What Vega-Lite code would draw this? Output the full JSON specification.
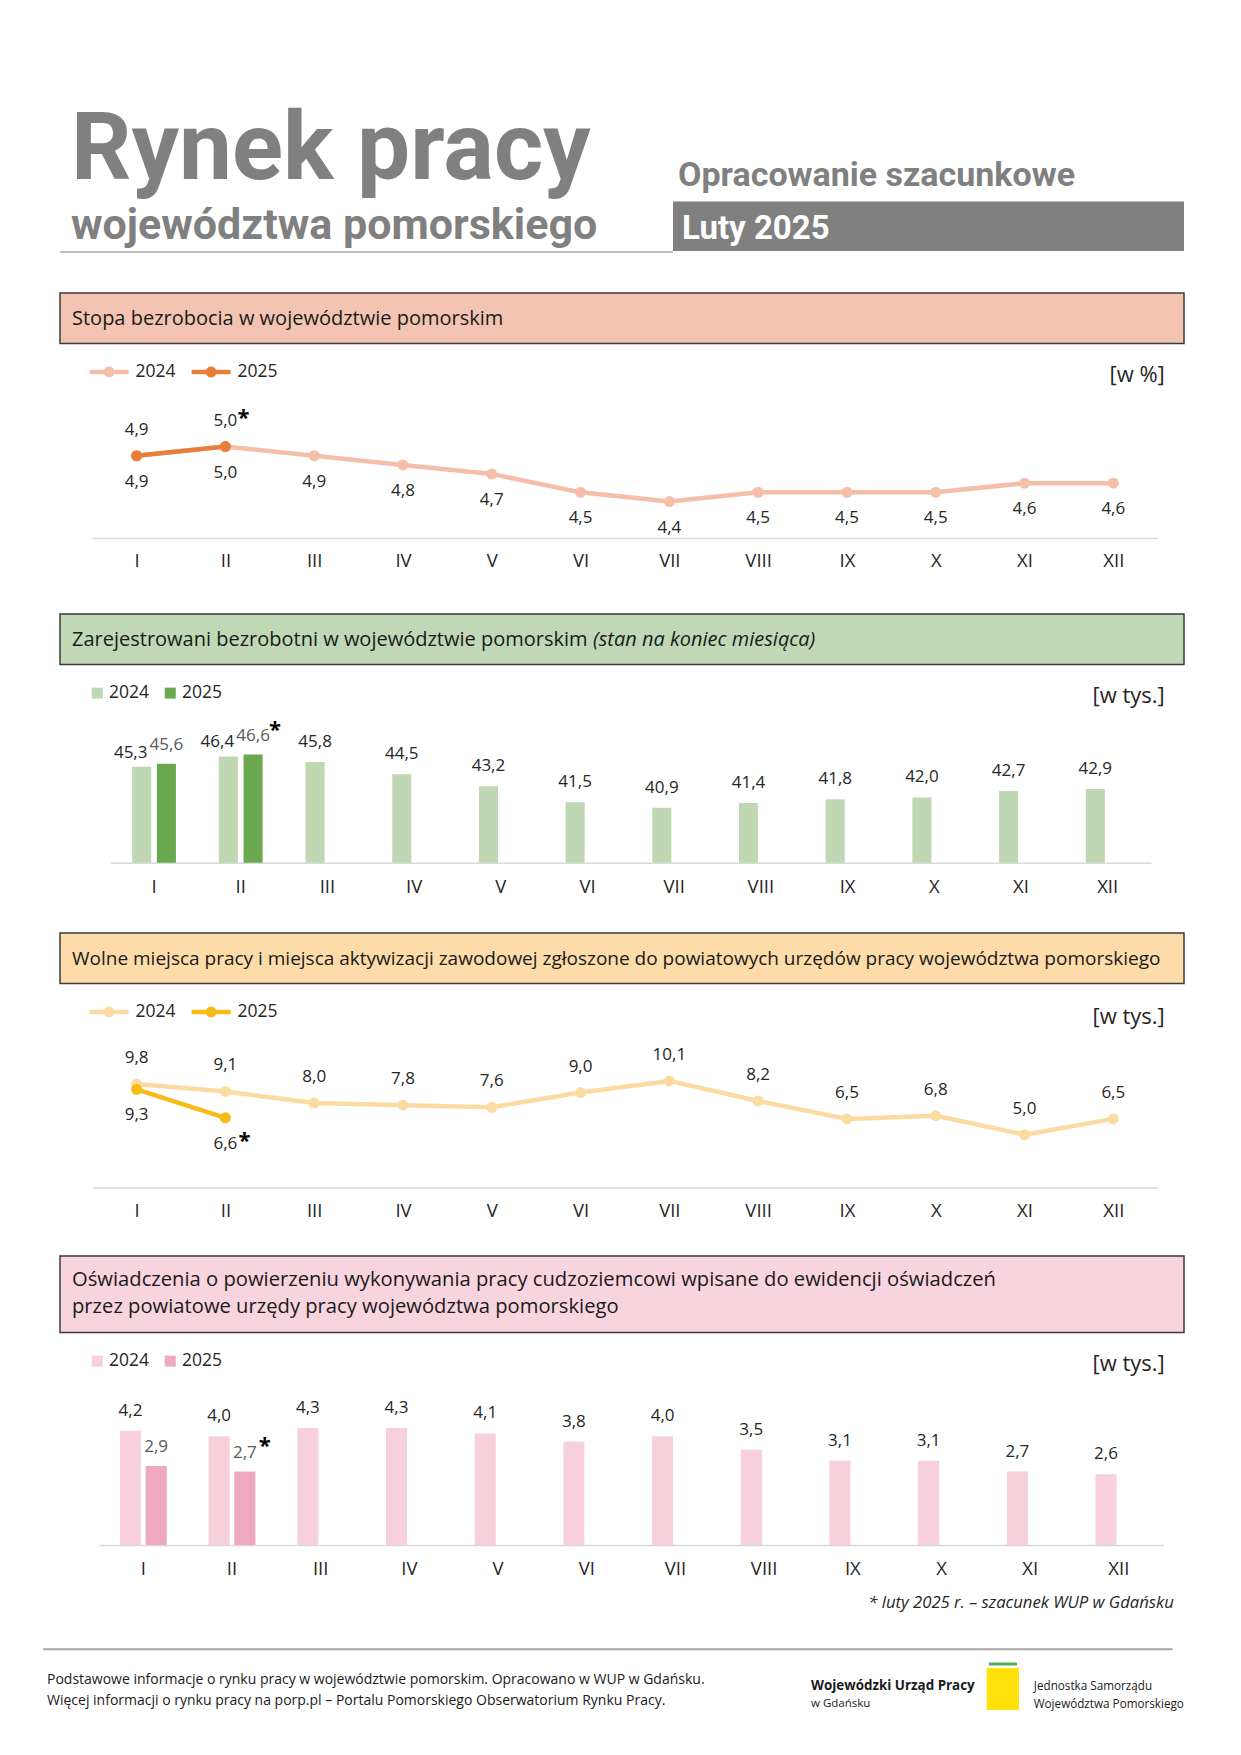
{
  "$schema": "https://vega.github.io/schema/vega-lite/v6.json",
  "padding": {"left": 42, "top": 0, "right": 0, "bottom": 0},
  "background": "white",
  "spacing": 0,
  "bounds": "flush",
  "resolve": {"scale": {"color": "independent", "x": "independent", "y": "independent", "xOffset": "independent"}, "legend": {"color": "independent"}},
  "config": {
    "view": {"stroke": null},
    "font": "Open Sans",
    "concat": {"spacing": 0},
    "locale": {"number": {"decimal": ",", "thousands": " ", "grouping": [3], "currency": ["", " zł"]}}
  },
  "datasets": {
    "stopa": [
      {"m": "I", "year": "2024", "v": 4.9, "est": false},
      {"m": "II", "year": "2024", "v": 5.0, "est": false},
      {"m": "III", "year": "2024", "v": 4.9, "est": false},
      {"m": "IV", "year": "2024", "v": 4.8, "est": false},
      {"m": "V", "year": "2024", "v": 4.7, "est": false},
      {"m": "VI", "year": "2024", "v": 4.5, "est": false},
      {"m": "VII", "year": "2024", "v": 4.4, "est": false},
      {"m": "VIII", "year": "2024", "v": 4.5, "est": false},
      {"m": "IX", "year": "2024", "v": 4.5, "est": false},
      {"m": "X", "year": "2024", "v": 4.5, "est": false},
      {"m": "XI", "year": "2024", "v": 4.6, "est": false},
      {"m": "XII", "year": "2024", "v": 4.6, "est": false},
      {"m": "I", "year": "2025", "v": 4.9, "est": false},
      {"m": "II", "year": "2025", "v": 5.0, "est": true}
    ],
    "bezrob": [
      {"m": "I", "year": "2024", "v": 45.3, "est": false},
      {"m": "II", "year": "2024", "v": 46.4, "est": false},
      {"m": "III", "year": "2024", "v": 45.8, "est": false},
      {"m": "IV", "year": "2024", "v": 44.5, "est": false},
      {"m": "V", "year": "2024", "v": 43.2, "est": false},
      {"m": "VI", "year": "2024", "v": 41.5, "est": false},
      {"m": "VII", "year": "2024", "v": 40.9, "est": false},
      {"m": "VIII", "year": "2024", "v": 41.4, "est": false},
      {"m": "IX", "year": "2024", "v": 41.8, "est": false},
      {"m": "X", "year": "2024", "v": 42.0, "est": false},
      {"m": "XI", "year": "2024", "v": 42.7, "est": false},
      {"m": "XII", "year": "2024", "v": 42.9, "est": false},
      {"m": "I", "year": "2025", "v": 45.6, "est": false},
      {"m": "II", "year": "2025", "v": 46.6, "est": true}
    ],
    "wolne": [
      {"m": "I", "year": "2024", "v": 9.8, "est": false},
      {"m": "II", "year": "2024", "v": 9.1, "est": false},
      {"m": "III", "year": "2024", "v": 8.0, "est": false},
      {"m": "IV", "year": "2024", "v": 7.8, "est": false},
      {"m": "V", "year": "2024", "v": 7.6, "est": false},
      {"m": "VI", "year": "2024", "v": 9.0, "est": false},
      {"m": "VII", "year": "2024", "v": 10.1, "est": false},
      {"m": "VIII", "year": "2024", "v": 8.2, "est": false},
      {"m": "IX", "year": "2024", "v": 6.5, "est": false},
      {"m": "X", "year": "2024", "v": 6.8, "est": false},
      {"m": "XI", "year": "2024", "v": 5.0, "est": false},
      {"m": "XII", "year": "2024", "v": 6.5, "est": false},
      {"m": "I", "year": "2025", "v": 9.3, "est": false},
      {"m": "II", "year": "2025", "v": 6.6, "est": true}
    ],
    "osw": [
      {"m": "I", "year": "2024", "v": 4.2, "est": false},
      {"m": "II", "year": "2024", "v": 4.0, "est": false},
      {"m": "III", "year": "2024", "v": 4.3, "est": false},
      {"m": "IV", "year": "2024", "v": 4.3, "est": false},
      {"m": "V", "year": "2024", "v": 4.1, "est": false},
      {"m": "VI", "year": "2024", "v": 3.8, "est": false},
      {"m": "VII", "year": "2024", "v": 4.0, "est": false},
      {"m": "VIII", "year": "2024", "v": 3.5, "est": false},
      {"m": "IX", "year": "2024", "v": 3.1, "est": false},
      {"m": "X", "year": "2024", "v": 3.1, "est": false},
      {"m": "XI", "year": "2024", "v": 2.7, "est": false},
      {"m": "XII", "year": "2024", "v": 2.6, "est": false},
      {"m": "I", "year": "2025", "v": 2.9, "est": false},
      {"m": "II", "year": "2025", "v": 2.7, "est": true}
    ]
  },
  "vconcat": [
    {
      "width": 1124, "height": 293,
      "layer": [
        {"data": {"values": [{"t": "Rynek pracy"}]}, "mark": {"type": "text", "font": "Roboto", "fontWeight": "bold", "fontSize": 94.5, "color": "#808080", "align": "left", "baseline": "alphabetic"}, "encoding": {"x": {"value": 11}, "y": {"value": 179}, "text": {"field": "t"}}},
        {"data": {"values": [{"t": "województwa pomorskiego"}]}, "mark": {"type": "text", "font": "Roboto", "fontWeight": "bold", "fontSize": 43, "color": "#808080", "align": "left", "baseline": "alphabetic"}, "encoding": {"x": {"value": 11}, "y": {"value": 238.5}, "text": {"field": "t"}}},
        {"data": {"values": [{"t": "Opracowanie szacunkowe"}]}, "mark": {"type": "text", "font": "Roboto", "fontWeight": "bold", "fontSize": 34, "color": "#808080", "align": "left", "baseline": "alphabetic"}, "encoding": {"x": {"value": 618}, "y": {"value": 186}, "text": {"field": "t"}}},
        {"data": {"values": [{"t": "box"}]}, "mark": {"type": "rect", "color": "#808080"}, "encoding": {"x": {"value": 613}, "x2": {"value": 1124}, "y": {"value": 201.6}, "y2": {"value": 251}}},
        {"data": {"values": [{"t": "Luty 2025"}]}, "mark": {"type": "text", "font": "Roboto", "fontWeight": "bold", "fontSize": 33, "color": "#FFFFFF", "align": "left", "baseline": "alphabetic"}, "encoding": {"x": {"value": 622}, "y": {"value": 238.5}, "text": {"field": "t"}}},
        {"data": {"values": [{"t": "line"}]}, "mark": {"type": "rule", "color": "#BFBFBF", "strokeWidth": 2}, "encoding": {"x": {"value": 0}, "x2": {"value": 613}, "y": {"value": 252}}}
      ]
    },
    {
      "width": 1124, "height": 50.5,
      "view": {"fill": "#F4C4B2", "stroke": "#3A3A3A", "strokeWidth": 1.5},
      "data": {"values": [{"t": "Stopa bezrobocia w województwie pomorskim"}]},
      "mark": {"type": "text", "align": "left", "baseline": "middle", "fontSize": 20, "color": "#1A1A1A"},
      "encoding": {"x": {"value": 12}, "y": {"value": 25.5}, "text": {"field": "t"}}
    },
    {
      "width": 1124, "height": 270,
      "data": {"name": "stopa"},
      "encoding": {
        "x": {"field": "m", "type": "ordinal", "scale": {"domain": ["I","II","III","IV","V","VI","VII","VIII","IX","X","XI","XII"], "range": [32.2, 1097.7], "paddingInner": 0, "paddingOuter": 0},
              "axis": {"title": null, "labelAngle": 0, "ticks": false, "tickSize": 0, "domainColor": "#D9D9D9", "domainWidth": 1.5, "labelFontSize": 18.5, "labelColor": "#262626", "labelPadding": 22.3, "labelBaseline": "middle", "offset": -75.9, "grid": false}},
        "y": {"field": "v", "type": "quantitative", "scale": {"domain": [4.0, 5.4], "range": [194.1, 66], "zero": false, "nice": false}, "axis": null}
      },
      "layer": [
        {"mark": {"type": "line", "strokeWidth": 4.5, "strokeJoin": "round", "strokeCap": "round"},
         "encoding": {"color": {"field": "year", "type": "nominal", "scale": {"domain": ["2024", "2025"], "range": ["#F4BEA9", "#E87F38"]},
           "legend": {"orient": "none", "legendX": 29.6, "legendY": 8.5, "direction": "horizontal", "title": null, "symbolType": "M-1,-0.115H1V0.115H-1Z M-0.28,0A0.28,0.28 0 1,1 0.28,0A0.28,0.28 0 1,1 -0.28,0Z", "symbolSize": 1521, "symbolStrokeWidth": 0, "symbolOpacity": 1, "labelFontSize": 17.5, "labelColor": "#262626", "labelOffset": 7, "columnPadding": 15, "padding": 0}}}},
        {"mark": {"type": "point", "filled": true, "size": 121, "opacity": 1},
         "encoding": {"color": {"field": "year", "type": "nominal", "scale": {"domain": ["2024", "2025"], "range": ["#F4BEA9", "#E87F38"]},
           "legend": {"orient": "none", "legendX": 29.6, "legendY": 8.5, "direction": "horizontal", "title": null, "symbolType": "M-1,-0.115H1V0.115H-1Z M-0.28,0A0.28,0.28 0 1,1 0.28,0A0.28,0.28 0 1,1 -0.28,0Z", "symbolSize": 1521, "symbolStrokeWidth": 0, "symbolOpacity": 1, "labelFontSize": 17.5, "labelColor": "#262626", "labelOffset": 7, "columnPadding": 15, "padding": 0}}}},
        {"transform": [{"filter": "datum.year == '2024'"}], "mark": {"type": "text", "dy": 26, "fontSize": 17, "color": "#262626", "baseline": "middle"}, "encoding": {"text": {"field": "v", "type": "quantitative", "format": ".1f"}}},
        {"transform": [{"filter": "datum.year == '2025'"}], "mark": {"type": "text", "dy": -26, "fontSize": 17, "color": "#262626", "baseline": "middle"}, "encoding": {"text": {"field": "v", "type": "quantitative", "format": ".1f"}}},
        {"transform": [{"filter": "datum.est"}], "mark": {"type": "text", "dx": 18, "dy": -29, "fontSize": 22, "fontWeight": "bold", "color": "#000000", "baseline": "middle"}, "encoding": {"text": {"value": "*"}}},
        {"data": {"values": [{"u": "[w %]"}]}, "mark": {"type": "text", "fontSize": 22, "color": "#262626", "align": "right", "baseline": "middle"}, "encoding": {"x": {"value": 1104.8}, "y": {"value": 31}, "text": {"field": "u"}}}
      ]
    },
    {
      "width": 1124, "height": 50.5,
      "view": {"fill": "#C0D8B6", "stroke": "#3A3A3A", "strokeWidth": 1.5},
      "layer": [
        {"data": {"values": [{"t": "Zarejestrowani bezrobotni w województwie pomorskim"}]}, "mark": {"type": "text", "align": "left", "baseline": "middle", "fontSize": 20, "color": "#1A1A1A"}, "encoding": {"x": {"value": 12}, "y": {"value": 25.5}, "text": {"field": "t"}}},
        {"data": {"values": [{"t": "(stan na koniec miesiąca)"}]}, "mark": {"type": "text", "align": "left", "baseline": "middle", "fontSize": 20, "fontStyle": "italic", "color": "#1A1A1A"}, "encoding": {"x": {"value": 533}, "y": {"value": 25.5}, "text": {"field": "t"}}}
      ]
    },
    {
      "width": 1124, "height": 268,
      "data": {"name": "bezrob"},
      "encoding": {
        "x": {"field": "m", "type": "ordinal", "scale": {"domain": ["I","II","III","IV","V","VI","VII","VIII","IX","X","XI","XII"], "range": [50.7, 1091], "paddingInner": 0.495, "paddingOuter": 0.2475},
              "axis": {"title": null, "labelAngle": 0, "ticks": false, "tickSize": 0, "domainColor": "#D9D9D9", "domainWidth": 1.5, "labelFontSize": 18.5, "labelColor": "#262626", "labelPadding": 23.5, "labelBaseline": "middle", "offset": -70.2, "grid": false}},
        "y": {"field": "v", "type": "quantitative", "scale": {"domain": [35, 48.5], "range": [197.8, 71.8], "zero": false, "nice": false}, "axis": null}
      },
      "layer": [
        {"mark": {"type": "bar"},
         "encoding": {"xOffset": {"field": "year", "type": "nominal", "scale": {"domain": ["2024", "2025"], "paddingInner": 0.228, "paddingOuter": 0}},
           "y2": {"datum": 35},
           "color": {"field": "year", "type": "nominal", "scale": {"domain": ["2024", "2025"], "range": ["#BFD7B3", "#6AA84F"]},
             "legend": {"orient": "none", "legendX": 28.5, "legendY": 19, "direction": "horizontal", "title": null, "symbolType": "square", "symbolSize": 121, "symbolStrokeWidth": 0, "symbolOpacity": 1, "labelFontSize": 17.5, "labelColor": "#262626", "labelOffset": 3, "columnPadding": 12, "padding": 0}}}},
        {"transform": [{"filter": "datum.year == '2024' && (datum.m == 'I' || datum.m == 'II')"}], "mark": {"type": "text", "dx": -11, "dy": -14, "fontSize": 17, "color": "#262626", "baseline": "middle"},
         "encoding": {"xOffset": {"field": "year", "type": "nominal", "scale": {"domain": ["2024", "2025"], "paddingInner": 0.228, "paddingOuter": 0}}, "text": {"field": "v", "type": "quantitative", "format": ".1f"}}},
        {"transform": [{"filter": "datum.year == '2024' && datum.m != 'I' && datum.m != 'II'"}], "mark": {"type": "text", "dy": -20, "fontSize": 17, "color": "#262626", "baseline": "middle"},
         "encoding": {"xOffset": {"field": "year", "type": "nominal", "scale": {"domain": ["2024", "2025"], "paddingInner": 0.228, "paddingOuter": 0}}, "text": {"field": "v", "type": "quantitative", "format": ".1f"}}},
        {"transform": [{"filter": "datum.year == '2025'"}], "mark": {"type": "text", "dy": -19, "fontSize": 17, "color": "#595959", "baseline": "middle"},
         "encoding": {"xOffset": {"field": "year", "type": "nominal", "scale": {"domain": ["2024", "2025"], "paddingInner": 0.228, "paddingOuter": 0}}, "text": {"field": "v", "type": "quantitative", "format": ".1f"}}},
        {"transform": [{"filter": "datum.est"}], "mark": {"type": "text", "dx": 22, "dy": -24.5, "fontSize": 22, "fontWeight": "bold", "color": "#000000", "baseline": "middle"},
         "encoding": {"xOffset": {"field": "year", "type": "nominal", "scale": {"domain": ["2024", "2025"], "paddingInner": 0.228, "paddingOuter": 0}}, "text": {"value": "*"}}},
        {"data": {"values": [{"u": "[w tys.]"}]}, "mark": {"type": "text", "fontSize": 22, "color": "#262626", "align": "right", "baseline": "middle"}, "encoding": {"x": {"value": 1104.8}, "y": {"value": 31}, "text": {"field": "u"}}}
      ]
    },
    {
      "width": 1124, "height": 50.5,
      "view": {"fill": "#FDDCA9", "stroke": "#3A3A3A", "strokeWidth": 1.5},
      "data": {"values": [{"t": "Wolne miejsca pracy i miejsca aktywizacji zawodowej zgłoszone do powiatowych urzędów pracy województwa pomorskiego"}]},
      "mark": {"type": "text", "align": "left", "baseline": "middle", "fontSize": 19, "color": "#1A1A1A"},
      "encoding": {"x": {"value": 12}, "y": {"value": 25.5}, "text": {"field": "t"}}
    },
    {
      "width": 1124, "height": 271.5,
      "data": {"name": "wolne"},
      "encoding": {
        "x": {"field": "m", "type": "ordinal", "scale": {"domain": ["I","II","III","IV","V","VI","VII","VIII","IX","X","XI","XII"], "range": [32.2, 1097.7], "paddingInner": 0, "paddingOuter": 0},
              "axis": {"title": null, "labelAngle": 0, "ticks": false, "tickSize": 0, "domainColor": "#D9D9D9", "domainWidth": 1.5, "labelFontSize": 18.5, "labelColor": "#262626", "labelPadding": 23, "labelBaseline": "middle", "offset": -68.1, "grid": false}},
        "y": {"field": "v", "type": "quantitative", "scale": {"domain": [0, 12], "range": [203.4, 76.9], "zero": false, "nice": false}, "axis": null}
      },
      "layer": [
        {"mark": {"type": "line", "strokeWidth": 4.5, "strokeJoin": "round", "strokeCap": "round"},
         "encoding": {"color": {"field": "year", "type": "nominal", "scale": {"domain": ["2024", "2025"], "range": ["#FCDBA3", "#F6BB17"]},
           "legend": {"orient": "none", "legendX": 29.6, "legendY": 8.5, "direction": "horizontal", "title": null, "symbolType": "M-1,-0.115H1V0.115H-1Z M-0.28,0A0.28,0.28 0 1,1 0.28,0A0.28,0.28 0 1,1 -0.28,0Z", "symbolSize": 1521, "symbolStrokeWidth": 0, "symbolOpacity": 1, "labelFontSize": 17.5, "labelColor": "#262626", "labelOffset": 7, "columnPadding": 15, "padding": 0}}}},
        {"mark": {"type": "point", "filled": true, "size": 121, "opacity": 1},
         "encoding": {"color": {"field": "year", "type": "nominal", "scale": {"domain": ["2024", "2025"], "range": ["#FCDBA3", "#F6BB17"]},
           "legend": {"orient": "none", "legendX": 29.6, "legendY": 8.5, "direction": "horizontal", "title": null, "symbolType": "M-1,-0.115H1V0.115H-1Z M-0.28,0A0.28,0.28 0 1,1 0.28,0A0.28,0.28 0 1,1 -0.28,0Z", "symbolSize": 1521, "symbolStrokeWidth": 0, "symbolOpacity": 1, "labelFontSize": 17.5, "labelColor": "#262626", "labelOffset": 7, "columnPadding": 15, "padding": 0}}}},
        {"transform": [{"filter": "datum.year == '2024'"}], "mark": {"type": "text", "dy": -26, "fontSize": 17, "color": "#262626", "baseline": "middle"}, "encoding": {"text": {"field": "v", "type": "quantitative", "format": ".1f"}}},
        {"transform": [{"filter": "datum.year == '2025'"}], "mark": {"type": "text", "dy": 26, "fontSize": 17, "color": "#262626", "baseline": "middle"}, "encoding": {"text": {"field": "v", "type": "quantitative", "format": ".1f"}}},
        {"transform": [{"filter": "datum.est"}], "mark": {"type": "text", "dx": 19, "dy": 23, "fontSize": 22, "fontWeight": "bold", "color": "#000000", "baseline": "middle"}, "encoding": {"text": {"value": "*"}}},
        {"data": {"values": [{"u": "[w tys.]"}]}, "mark": {"type": "text", "fontSize": 22, "color": "#262626", "align": "right", "baseline": "middle"}, "encoding": {"x": {"value": 1104.8}, "y": {"value": 32.5}, "text": {"field": "u"}}}
      ]
    },
    {
      "width": 1124, "height": 76.5,
      "view": {"fill": "#F8D4DF", "stroke": "#3A3A3A", "strokeWidth": 1.5},
      "layer": [
        {"data": {"values": [{"t": "Oświadczenia o powierzeniu wykonywania pracy cudzoziemcowi wpisane do ewidencji oświadczeń"}]}, "mark": {"type": "text", "align": "left", "baseline": "middle", "fontSize": 20.2, "color": "#1A1A1A"}, "encoding": {"x": {"value": 12}, "y": {"value": 23.7}, "text": {"field": "t"}}},
        {"data": {"values": [{"t": "przez powiatowe urzędy pracy województwa pomorskiego"}]}, "mark": {"type": "text", "align": "left", "baseline": "middle", "fontSize": 20.2, "color": "#1A1A1A"}, "encoding": {"x": {"value": 12}, "y": {"value": 50.5}, "text": {"field": "t"}}}
      ]
    },
    {
      "width": 1124, "height": 261,
      "data": {"name": "osw"},
      "encoding": {
        "x": {"field": "m", "type": "ordinal", "scale": {"domain": ["I","II","III","IV","V","VI","VII","VIII","IX","X","XI","XII"], "range": [39, 1103.2], "paddingInner": 0.4725, "paddingOuter": 0.236},
              "axis": {"title": null, "labelAngle": 0, "ticks": false, "tickSize": 0, "domainColor": "#D9D9D9", "domainWidth": 1.5, "labelFontSize": 18.5, "labelColor": "#262626", "labelPadding": 23.5, "labelBaseline": "middle", "offset": -49, "grid": false}},
        "y": {"field": "v", "type": "quantitative", "scale": {"domain": [0, 5], "range": [212, 76], "zero": false, "nice": false}, "axis": null}
      },
      "layer": [
        {"mark": {"type": "bar"},
         "encoding": {"xOffset": {"field": "year", "type": "nominal", "scale": {"domain": ["2024", "2025"], "paddingInner": 0.18, "paddingOuter": 0}},
           "y2": {"datum": 0},
           "color": {"field": "year", "type": "nominal", "scale": {"domain": ["2024", "2025"], "range": ["#F8D0DC", "#EFA9BF"]},
             "legend": {"orient": "none", "legendX": 28.5, "legendY": 19, "direction": "horizontal", "title": null, "symbolType": "square", "symbolSize": 121, "symbolStrokeWidth": 0, "symbolOpacity": 1, "labelFontSize": 17.5, "labelColor": "#262626", "labelOffset": 3, "columnPadding": 12, "padding": 0}}}},
        {"transform": [{"filter": "datum.year == '2024'"}], "mark": {"type": "text", "dy": -20, "fontSize": 17, "color": "#262626", "baseline": "middle"},
         "encoding": {"xOffset": {"field": "year", "type": "nominal", "scale": {"domain": ["2024", "2025"], "paddingInner": 0.18, "paddingOuter": 0}}, "text": {"field": "v", "type": "quantitative", "format": ".1f"}}},
        {"transform": [{"filter": "datum.year == '2025'"}], "mark": {"type": "text", "dy": -19, "fontSize": 17, "color": "#595959", "baseline": "middle"},
         "encoding": {"xOffset": {"field": "year", "type": "nominal", "scale": {"domain": ["2024", "2025"], "paddingInner": 0.18, "paddingOuter": 0}}, "text": {"field": "v", "type": "quantitative", "format": ".1f"}}},
        {"transform": [{"filter": "datum.est"}], "mark": {"type": "text", "dx": 20, "dy": -25.5, "fontSize": 22, "fontWeight": "bold", "color": "#000000", "baseline": "middle"},
         "encoding": {"xOffset": {"field": "year", "type": "nominal", "scale": {"domain": ["2024", "2025"], "paddingInner": 0.18, "paddingOuter": 0}}, "text": {"value": "*"}}},
        {"data": {"values": [{"u": "[w tys.]"}]}, "mark": {"type": "text", "fontSize": 22, "color": "#262626", "align": "right", "baseline": "middle"}, "encoding": {"x": {"value": 1104.8}, "y": {"value": 31}, "text": {"field": "u"}}}
      ]
    },
    {
      "width": 1124, "height": 163.5,
      "layer": [
        {"data": {"values": [{"t": "* luty 2025 r. – szacunek WUP w Gdańsku"}]}, "mark": {"type": "text", "align": "right", "baseline": "middle", "fontSize": 16.7, "fontStyle": "italic", "color": "#262626"}, "encoding": {"x": {"value": 1113.8}, "y": {"value": 9.3}, "text": {"field": "t"}}},
        {"data": {"values": [{"t": "line"}]}, "mark": {"type": "rule", "color": "#A6A6A6", "strokeWidth": 2}, "encoding": {"x": {"value": -17}, "x2": {"value": 1112.6}, "y": {"value": 55.2}}},
        {"data": {"values": [{"t": "Podstawowe informacje o rynku pracy w województwie pomorskim. Opracowano w WUP w Gdańsku."}]}, "mark": {"type": "text", "align": "left", "baseline": "middle", "fontSize": 14, "color": "#1A1A1A"}, "encoding": {"x": {"value": -13}, "y": {"value": 86}, "text": {"field": "t"}}},
        {"data": {"values": [{"t": "Więcej informacji o rynku pracy na porp.pl – Portalu Pomorskiego Obserwatorium Rynku Pracy."}]}, "mark": {"type": "text", "align": "left", "baseline": "middle", "fontSize": 14, "color": "#1A1A1A"}, "encoding": {"x": {"value": -13}, "y": {"value": 107}, "text": {"field": "t"}}},
        {"data": {"values": [{"t": "Wojewódzki Urząd Pracy"}]}, "mark": {"type": "text", "align": "left", "baseline": "middle", "fontSize": 13.4, "fontWeight": "bold", "color": "#1A1A1A"}, "encoding": {"x": {"value": 751}, "y": {"value": 92}, "text": {"field": "t"}}},
        {"data": {"values": [{"t": "w Gdańsku"}]}, "mark": {"type": "text", "align": "left", "baseline": "middle", "fontSize": 11.5, "color": "#1A1A1A"}, "encoding": {"x": {"value": 751}, "y": {"value": 110}, "text": {"field": "t"}}},
        {"data": {"values": [{"t": "green"}]}, "mark": {"type": "rule", "color": "#4CAF50", "strokeWidth": 3}, "encoding": {"x": {"value": 929}, "x2": {"value": 957}, "y": {"value": 70}}},
        {"data": {"values": [{"t": "emblem"}]}, "mark": {"type": "rect", "color": "#FFE20A"}, "encoding": {"x": {"value": 926.7}, "x2": {"value": 959}, "y": {"value": 74}, "y2": {"value": 116}}},
        {"data": {"values": [{"t": "Jednostka Samorządu"}]}, "mark": {"type": "text", "align": "left", "baseline": "middle", "fontSize": 11.7, "color": "#1A1A1A"}, "encoding": {"x": {"value": 973.8}, "y": {"value": 92}, "text": {"field": "t"}}},
        {"data": {"values": [{"t": "Województwa Pomorskiego"}]}, "mark": {"type": "text", "align": "left", "baseline": "middle", "fontSize": 11.7, "color": "#1A1A1A"}, "encoding": {"x": {"value": 973.8}, "y": {"value": 110}, "text": {"field": "t"}}}
      ]
    }
  ]
}
